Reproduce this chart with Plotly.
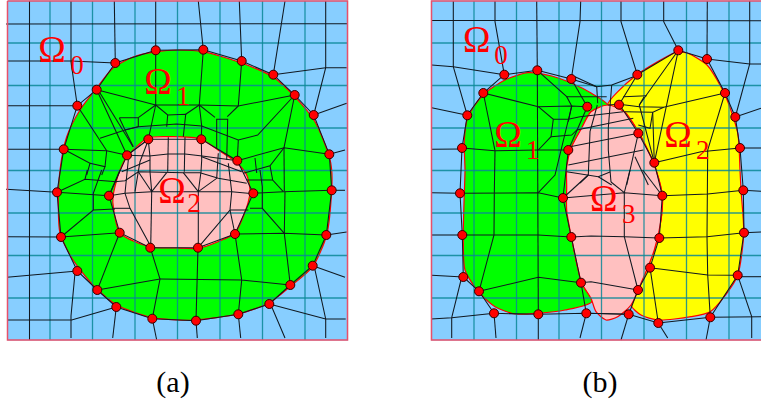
import plotly.graph_objects as go

BLUE = "#87CEFF"; GREEN = "#00FF00"; PINK = "#FFC0C0"; YELLOW = "#FFFF00"
TEAL = "rgba(10,135,150,0.85)"; RED = "#FF0000"; FRAME = "#E8506A"; INK = "#101820"

FRAME_A = [(7.5, 1), (347.5, 1), (347.5, 340), (7.5, 340), (7.5, 1)]
FRAME_B = [(761, 1), (431.5, 1), (431.5, 340), (761, 340)]
GRID_X_A = [50, 92.5, 135, 177.5, 220, 262.5, 305]
GRID_X_B = [474, 516.5, 559, 601.5, 644, 686.5, 729]
GRID_Y = [43, 85.5, 128, 170.5, 213, 255.5, 298]

GREEN_A = [(60,170),(66.7,136.7),(80,110),(96.7,88),(113,68),(133,57),(157,51.7),(177,50),(203,51.7),(241.7,63),(273,77),(294.7,96.7),(315,121.7),(329.3,156.7),(331.7,170),(331.7,190),(326.7,235),(312.7,266.7),(290,286.7),(269,303),(238,314),(196,320),(176.7,320),(152,317.7),(116.7,305),(93,285),(71.7,258),(60,233),(58.3,203),(60,170)]
PINK_A = [(120,170),(127,156.7),(148,138),(173,136.7),(201,139),(218,150),(237,163),(246.7,175),(250,190),(248,203),(235,233),(218,241.7),(198,248.3),(175,248),(150,247),(120,233),(113.3,206.7),(113,196.7),(116.7,180),(120,170)]
GREEN_B = [(465,170),(464.3,140),(468,116.7),(483,95),(505,80),(528,72.7),(551.7,76),(571.7,83.3),(591,93),(607.7,105),(591,111.7),(581.7,128),(571.7,146.7),(566.7,166.7),(566.7,186.7),(566.7,210),(573.3,246.7),(581.7,283),(591.7,301.7),(565,310),(538.3,313.3),(515,314),(495,306.7),(478.3,291.7),(465,270),(463.3,236.7),(464,203),(465,170)]
YELLOW_B = [(607.7,105),(634.3,76.7),(678.3,51.7),(687.7,53.3),(707,65),(725,95),(737.7,133),(740,170),(741,190),(743.7,233.3),(737.7,275.3),(724.3,296.7),(710.3,311.7),(691,316.7),(658.3,320),(641,315),(631,305),(641,283.3),(654.3,250),(661,220),(662.3,195.7),(656,170),(647.7,150),(638.3,131.7),(624.3,111.7),(607.7,105)]
PINK_B = [(607.7,105),(624.3,111.7),(638.3,131.7),(647.7,150),(656,170),(662.3,195.7),(661,220),(654.3,250),(641,283.3),(631,305),(617.7,316.7),(606,320),(596,311.7),(591,298.3),(581.7,283),(573.3,246.7),(566.7,210),(566.7,186.7),(566.7,166.7),(571.7,146.7),(581.7,128),(591,111.7),(607.7,105)]

RING_A = [(155.7,50.3),(203.3,49.7),(241.7,61),(273.3,74.7),(294.7,95),(313.7,115),(329.3,154.3),(331.7,190.3),(326.3,235),(312.7,265.7),(290.3,285),(269.3,304),(238.3,314.3),(196,320.7),(152.3,318.7),(116.3,307),(97.3,290),(77.3,271),(61,237),(57,192.3),(63.7,149.3),(77.3,105.7),(96.7,89.7),(115.3,63),(155.7,50.3)]
INNER_A = [(148.3,139.3),(201.3,139.3),(237.3,160.7),(253.3,193.3),(235,234),(198,247.7),(150.3,247.7),(119.7,232.7),(109,195.7),(127,155.3),(148.3,139.3)]
RING_B = [(504.3,74.7),(537.3,70.3),(571.3,79),(637.3,74.7),(678.3,50.3),(707,59),(725,93),(735.3,117),(740,148),(743.3,190.3),(744,232.7),(737.7,275.3),(710.3,317.3),(658.3,323),(628.7,314.3),(586.3,313.3),(538.3,314.3),(494,313.3),(479,291.3),(463.3,277),(462.3,235),(460,193.3),(462,148),(467.3,115.3),(483.3,93),(504.3,74.7)]
RING_B_OPEN = [(504.3,74.7),(537.3,70.3),(571.3,79),(596.7,86.7)]
RING_B_REST = RING_B[3:]
INNER_B = [(587.3,106.7),(568.3,150),(563,198),(571.3,237),(581,282.7),(586.3,313.3)]
INNER_B2 = [(619,104.7),(638.3,133.3),(654.3,162.7),(662.3,195.7),(659.3,238),(650,267.7),(638,290),(628.7,314.3)]

MESH_A = [
 [(29.5,1),(29.5,340)],
 [(71,1),(71,62),(77.3,105.7)], [(114.3,1),(115.3,63)], [(155.7,1),(155.7,105)],
 [(198.3,1),(203.3,50),(199.3,105)], [(239.3,1),(241.7,61),(238.3,106)], [(285,1),(273.3,74.7)],
 [(325.7,1),(325.7,67.7),(313.7,115)], [(6,24),(347,23.7)], [(7,61),(71,61),(115.3,63)],
 [(273.3,74.7),(325.7,67.7),(346.7,67.7)], [(7,105.7),(77.3,105.7)], [(313.7,115),(346.7,103.3)],
 [(7,149.3),(63.7,149.3)], [(329.3,154.3),(345,150)], [(6,189.3),(57,192.3)], [(331.7,190.3),(345,190.3)],
 [(7,236.7),(61,237)], [(326.3,235),(346.7,232)], [(7,277.3),(77.3,271)], [(312.7,265.7),(345,277.3)],
 [(7,320),(71.7,320),(116.3,307)], [(71,338),(71,316),(75,273),(77.3,271)], [(112.7,338),(116.3,307)],
 [(156.7,340),(152.3,318.7)], [(197.3,338),(196,320.7)], [(240.7,338),(238.3,314.3)],
 [(285,338),(271.7,306.7),(269.3,304)], [(269.3,304),(325.7,319),(345.7,319)],
 [(325.7,338),(325.7,319),(315,270),(312.7,265.7)],
 [(96.7,89.7),(155.7,105)], [(77.3,105.7),(106.7,150.7)], [(63.7,149.3),(106.7,150.7),(127,155.3)],
 [(63.7,149.3),(90,163.3),(86.7,175)], [(90,163.3),(105,166.7),(101.7,175)], [(106.7,150.7),(105,166.7)],
 [(96.7,89.7),(127,155.3)], [(100,93),(133,146.7)],
 [(119.3,117.7),(138.3,117.7),(138.3,126.7),(125,130),(119.3,117.7)], [(155.7,105),(138.3,117.7)],
 [(100,138.3),(125,130),(138.3,126.7),(176.7,124),(201.7,126),(238.3,140),(257.7,135),(294.7,95)],
 [(125,130),(133.3,146.7)], [(155.7,105),(148.3,139.3)], [(148.3,139.3),(127,155.3)],
 [(155.7,105),(167.7,115),(185.7,114.3),(183.3,136.7)], [(167.7,115),(166.7,126.7)],
 [(155.7,105),(199.3,105),(238.3,106),(294.7,95)], [(199.3,105),(185.7,114.3)], [(199.3,105),(215,117.3)],
 [(199.3,105),(201.7,126),(201.3,139.3)], [(238.3,106),(227.3,116.7)],
 [(216.7,148),(216.7,119.3),(227.7,119.3),(226.7,160)], [(238.3,140),(237.3,160.7)],
 [(237.3,160.7),(284,147.7),(329.3,154.3)], [(294.7,95),(284,147.7),(270,165.7),(243.3,173.3)],
 [(255,158),(256.7,173)], [(270,165.7),(272.7,180),(283.3,191.7)], [(260,170),(262.3,186.7),(262.3,208.3)],
 [(253.3,193.3),(283.3,191.7),(331.7,190.3)], [(246.7,180),(272.7,180)],
 [(284,147.7),(284.3,191)], [(250,208.3),(262.3,208.3),(284.3,233.3)], [(284.3,233.3),(285,191.7)],
 [(235,234),(284.3,233.3),(326.3,235)], [(284.3,233.3),(290.3,285)], [(235,234),(241.7,280),(290.3,285)],
 [(241.7,280),(238.3,314.3)], [(160,279),(197.3,279.3),(241.7,280)], [(198,247.7),(197.3,279.3),(196,320.7)],
 [(150.3,247.7),(160,279),(152.3,318.7)], [(160,279),(97.3,290)], [(119.7,232.7),(97.3,290)],
 [(61,237),(119.7,232.7)], [(61,237),(93.3,210),(115,209)], [(57,192.3),(109,195.7)],
 [(57,192.3),(85,179.3),(116.7,181.7)], [(85,179.3),(87.3,170)], [(101.7,170),(93.3,193.3),(93.3,210)],
 [(120,170),(109,195.7)],
]

PINK_MESH_A = [
 [(148.3,140),(140,161.7),(138.3,171.7),(135,191.7)], [(148.3,140),(150,157),(150,171.7),(151.7,191.7)],
 [(168.3,137.3),(167.7,171.7)], [(185,137.3),(184.3,171.7)], [(201.3,139.3),(201.7,160),(201,171.7),(198.3,191.7)],
 [(218.3,153.3),(216.7,178.3),(198.3,191.7)], [(228.3,163.3),(231.7,191.7),(230,210),(198.3,247.3)],
 [(128.3,160),(125,193.3),(130,208.3),(150,245)],
 [(127.3,155.3),(149.3,156),(168,154),(185,154),(202.3,156),(237.3,160.7)],
 [(121.7,171.7),(150,160)], [(201.7,156.7),(241.7,171.7)],
 [(115,181.7),(125,180.7),(138.3,171.7),(166.7,172.7),(183.3,172.7),(200,172.7),(218.3,178.3),(246.7,183.3)],
 [(109.3,195.7),(125,193.3),(151.7,191.7),(198.3,191.7),(231.7,191.7),(253.3,193.7)],
 [(151.7,191.7),(166.7,172.7)], [(198.3,191.7),(183.3,172.7)], [(151.7,191.7),(138.3,171.7)],
 [(151.7,191.7),(150.7,247.3)], [(198.3,191.7),(198.3,247.3)],
 [(230,210),(248.3,210)], [(235,234),(230,210)], [(113.3,208.3),(130,208.3)],
]

MESH_B = [
 [(453.3,1),(453.3,66.7),(467.3,115.3)], [(495,1),(495,21.7),(504.3,74.7)], [(536.7,1),(537.3,70.3)],
 [(580.7,1),(580,21.7),(571.3,79)], [(431.7,20.5),(761,20.7)], [(431.7,65),(453.3,66.7),(504.3,74.7)],
 [(431.7,107.7),(467.3,115.3)], [(431.7,149.3),(462,149)], [(621,1),(621,21.7),(637.3,74.7)],
 [(663.7,1),(663.7,21.7),(678.3,50.3)], [(707.3,1),(707,59)], [(749.7,1),(749.7,64),(735.3,117)],
 [(707,59),(749.7,64),(761,64)], [(735.3,117),(761,108.3)], [(740,148),(761,148)], [(743.3,190.3),(761,191.3)],
 [(744,232.7),(761,232)], [(737.7,276.7),(761,276.7)], [(737.7,275.3),(751.7,316.7),(751.7,338)],
 [(710.3,317.3),(751.7,316.7),(761,316.7)], [(710.3,317.3),(706,340)], [(658.3,323),(667.7,338)],
 [(628.7,314.3),(621,340)], [(586.3,313.3),(628.7,314.3)], [(586.3,313.3),(580,338)], [(538.3,314.3),(538.3,340)],
 [(494,313.3),(496,338)], [(494,313.3),(451.7,317.7),(431,319)], [(451.7,317.7),(451.7,338)],
 [(451.7,317.7),(461,280),(463.3,277)], [(431.7,275.3),(463.3,277)], [(431.7,235),(462.3,235)], [(431.7,192.7),(460,193.3)],
 [(537.3,70.3),(538.3,314.3)], [(483.3,93),(538.3,106.7),(571.7,106),(587.3,106.7)],
 [(537.3,70.3),(566.7,96.7),(571.7,106),(568.3,121.7)], [(566.7,96.7),(606.7,96.7)],
 [(538.3,106.7),(553.3,119.3),(551,136.7),(538.3,150)], [(553.3,119.3),(568.3,119.3),(580,116.7)],
 [(551,136.7),(571.7,135),(576.7,130)], [(571.3,79),(587.3,106.7)], [(587.3,106.7),(568.3,150)],
 [(571.7,106),(555,175),(538.3,192.7)], [(483.3,93),(495,150.7)], [(462,148),(495,150.7),(538.3,150),(568.3,150)],
 [(495,150.7),(494.3,193.3)], [(460,193.3),(494.3,193.3),(538.3,192.7),(563,198)],
 [(462.3,235),(494,235),(538.3,235),(571.3,237)], [(494.3,193.3),(494,235),(479,291.3)],
 [(479,291.3),(538.3,277.3),(581,282.7)], [(568.3,150),(563,198),(571.3,237),(581,282.7),(586.3,313.3)],
 [(563,198),(595,195),(624.3,192.7),(662.3,195.7)], [(571.3,237),(591,236),(624.3,236.7),(659.3,238)],
 [(581,282.7),(591,281.7),(638,290)], [(630,170),(624.3,192.7),(624.3,236.7),(638,290)], [(642.7,170),(662.3,195.7)],
 [(611,182),(624.3,192.7)], [(588.3,175),(563,198)],
 [(575,76.7),(596.7,86.7),(611.7,85),(638.3,75)], [(596.7,86.7),(597.7,103.3)], [(611.7,85),(610,105),(608.3,128),(608.3,150),(611,182)],
 [(597.3,105),(590,131.7),(588.3,175)],
 [(580,116.7),(623.3,111.7)], [(576.7,130),(633.3,118.3)], [(570,146.7),(638.3,133.3)], [(568.3,165),(643.3,150)],
 [(566.7,171.7),(588.3,175),(598.3,176.7),(610,172)], [(588.3,175),(580,183)], [(635,156.7),(648.3,185)],
 [(638.3,133.3),(626.7,185)], [(598.3,176.7),(611.7,185)],
 [(637.3,74.7),(619.3,104.3),(607.7,105)], [(619.3,104.3),(638.3,133.3)], [(623.3,96.7),(646.7,95.7)],
 [(619.3,104.3),(639.3,106.7),(663.7,107.3),(725,93)], [(678.3,50.3),(639.3,105),(654.3,162.7)], [(678.3,50.3),(654.3,162.7)],
 [(663.7,107.3),(652.7,112.3),(654.3,162.7)], [(639.3,105),(644,97)], [(625,111.7),(652.7,112.3)],
 [(652.7,112.3),(650,128.3),(638.3,125)], [(638.3,133.3),(654.3,162.7),(662.3,195.7)],
 [(654.3,162.7),(701,151.7),(740,148)],
 [(725,93),(707.7,150),(707,236.7),(707.7,275),(710.3,317.3)], [(662.3,195.7),(707.7,194),(743.3,190.3)],
 [(659.3,238),(707,236.7),(744,232.7)], [(650,267.7),(707.7,275),(737.7,275.3)], [(650,267.7),(658.3,323)],
 [(662.3,195.7),(659.3,238),(650,267.7),(638,290),(628.7,314.3)],
]

LABELS = [("Ω",52,53),("0",77,67),("Ω",158,85),("1",183,98),("Ω",172,194),("2",194,205),
          ("Ω",476.7,43),("0",501,57),("Ω",508,138),("1",532.7,152),("Ω",678,138),("2",702.7,152),("Ω",603.7,202),("3",628.7,216)]
CAPTIONS = [("(a)",173,384),("(b)",600,384)]

def xs(pts): return [p[0] for p in pts]
def ys(pts): return [p[1] for p in pts]
def joined(lines):
    X, Y = [], []
    for l in lines:
        X += xs(l) + [None]; Y += ys(l) + [None]
    return X, Y

fig = go.Figure()
def poly(pts, color, line=None, w=1.2, smooth=False):
    ln = dict(color=line or color, width=w)
    if smooth:
        ln.update(shape="spline", smoothing=0.7)
    fig.add_trace(go.Scatter(x=xs(pts), y=ys(pts), mode="lines", fill="toself", fillcolor=color, line=ln, hoverinfo="skip"))

poly([(7.5,1),(347.5,1),(347.5,340),(7.5,340)], BLUE)
poly([(761,1),(431.5,1),(431.5,340),(761,340)], BLUE)
poly(GREEN_A, GREEN, RED, 1.2, True); poly(PINK_A, PINK, RED, 1.2, True)
poly(GREEN_B, GREEN, RED, 1.2, True); poly(YELLOW_B, YELLOW, RED, 1.2, True); poly(PINK_B, PINK, RED, 1.2, True)

grid = [[(x,1),(x,340)] for x in GRID_X_A + GRID_X_B]
grid += [[(7.5,y),(347.5,y)] for y in GRID_Y] + [[(431.5,y),(761,y)] for y in GRID_Y]
gx, gy = joined(grid)
fig.add_trace(go.Scatter(x=gx, y=gy, mode="lines", line=dict(color=TEAL, width=1.3), hoverinfo="skip"))

mx, my = joined(MESH_A + PINK_MESH_A + MESH_B + [RING_A, INNER_A, RING_B_OPEN, RING_B_REST])
fig.add_trace(go.Scatter(x=mx, y=my, mode="lines", line=dict(color=INK, width=1.05), hoverinfo="skip"))

fx, fy = joined([FRAME_A, FRAME_B])
fig.add_trace(go.Scatter(x=fx, y=fy, mode="lines", line=dict(color=FRAME, width=1.5), hoverinfo="skip"))

dots = RING_A[:-1] + INNER_A[:-1] + RING_B[:-1] + INNER_B[:-1] + INNER_B2[:-1]
fig.add_trace(go.Scatter(x=xs(dots), y=ys(dots), mode="markers",
                         marker=dict(color=RED, size=9, line=dict(color="#300000", width=1)), hoverinfo="skip"))

for txt, x, y in LABELS:
    fig.add_trace(go.Scatter(x=[x], y=[y], mode="text", text=[txt], textposition="middle center",
                             textfont=dict(family="Liberation Serif", size=37 if txt == "Ω" else 27, color=RED), hoverinfo="skip"))
for txt, x, y in CAPTIONS:
    fig.add_trace(go.Scatter(x=[x], y=[y], mode="text", text=[txt], textposition="middle center",
                             textfont=dict(family="Liberation Serif", size=30, color="black"), hoverinfo="skip"))

fig.update_layout(width=761, height=404, margin=dict(l=0, r=0, t=0, b=0), showlegend=False,
                  paper_bgcolor="white", plot_bgcolor="white",
                  xaxis=dict(range=[0, 761], visible=False, fixedrange=True),
                  yaxis=dict(range=[404, 0], visible=False, fixedrange=True))
fig.write_html("out.html", config=dict(displayModeBar=False),
               post_script="document.body.style.margin='0';")
